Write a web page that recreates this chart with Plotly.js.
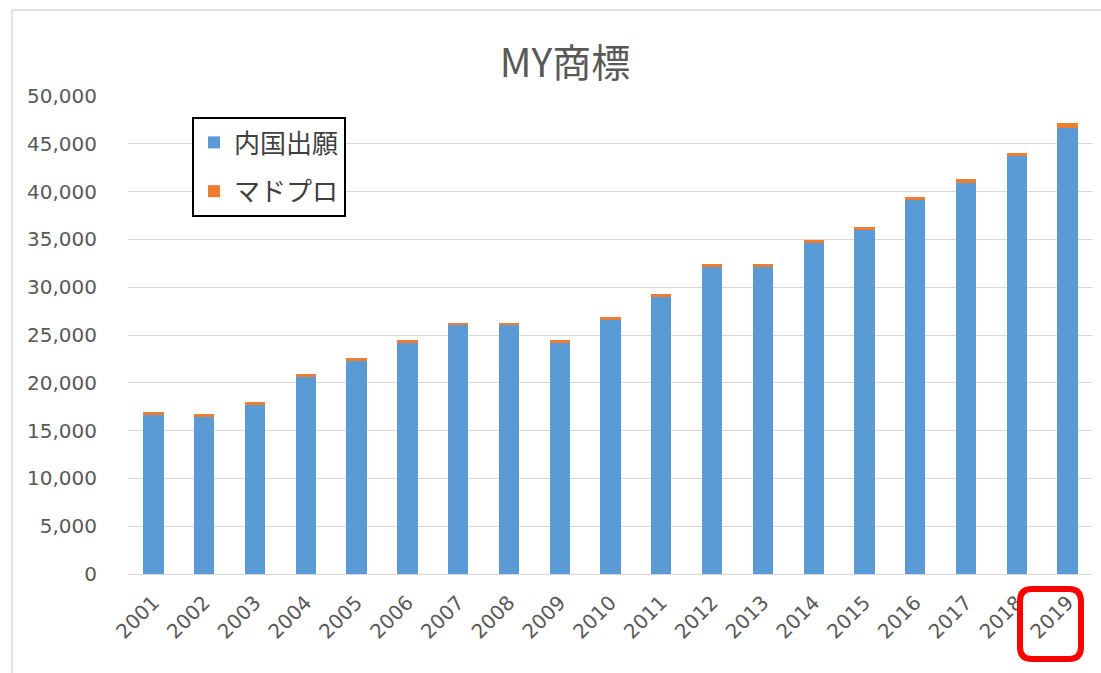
<!DOCTYPE html>
<html>
<head>
<meta charset="utf-8">
<script src="https://cdn.plot.ly/plotly-3.0.1.min.js"></script>
<style>html,body{margin:0;padding:0;background:#fff;}#chart{width:1101px;height:673px;}</style>
</head>
<body>
<div id="chart"></div>
<script>
const years = ["2001","2002","2003","2004","2005","2006","2007","2008","2009","2010","2011","2012","2013","2014","2015","2016","2017","2018","2019"];
const domestic = [16600,16400,17700,20650,22250,24150,26000,26000,24150,26550,28950,32150,32150,34600,35950,39100,40950,43700,46650];
const madrid = [300,300,300,300,300,300,300,300,300,300,300,300,300,300,300,300,350,300,550];
const seriesNames = ["内国出願","マドプロ"];
const chartTitle = "MY商標";

const W = 1101, H = 673;
const M = {l:128, r:8, t:96, b:99};
const pw = W - M.l - M.r, ph = H - M.t - M.b;
function px(x){ return (x - M.l)/pw; }
function py(y){ return (H - M.b - y)/ph; }
function roundRectPath(x0,y0,x1,y1,r){
  const P = (x,y)=> px(x).toFixed(5)+","+py(y).toFixed(5);
  return "M"+P(x0+r,y0)+" L"+P(x1-r,y0)+" Q"+P(x1,y0)+" "+P(x1,y0+r)+
         " L"+P(x1,y1-r)+" Q"+P(x1,y1)+" "+P(x1-r,y1)+
         " L"+P(x0+r,y1)+" Q"+P(x0,y1)+" "+P(x0,y1-r)+
         " L"+P(x0,y0+r)+" Q"+P(x0,y0)+" "+P(x0+r,y0)+" Z";
}

const tickFont = {family:"DejaVu Sans", size:20, color:"#595959"};
const cjk = "Noto Sans CJK JP";

const traces = [
  {type:"bar", x:years, y:domestic, name:seriesNames[0], legendgroup:"a",
   marker:{color:"#5B9BD5"}},
  {type:"bar", x:years, y:madrid, name:seriesNames[1], legendgroup:"b",
   marker:{color:"#ED7D31"}}
];

const layout = {
  width:W, height:H,
  margin:M,
  paper_bgcolor:"#fff", plot_bgcolor:"#fff",
  barmode:"stack", bargap:0.6,
  title:{text:chartTitle, font:{family:cjk, size:39, color:"#595959"},
         xref:"container", x:565/W, xanchor:"center", yref:"container", y:1-63/H, yanchor:"middle"},
  xaxis:{type:"category", tickangle:-45, tickfont:tickFont, showgrid:false,
         showline:true, linecolor:"#D9D9D9", linewidth:1, ticks:"",
         ticklabelstandoff:8, fixedrange:true},
  yaxis:{range:[0,50000], dtick:5000, tickformat:",d", tickfont:tickFont,
         gridcolor:"#D9D9D9", gridwidth:1, zeroline:false, ticks:"",
         ticklabelstandoff:30, fixedrange:true},
  showlegend:true,
  legend:{x:px(192), y:py(117), xanchor:"left", yanchor:"top",
          bgcolor:"#fff", bordercolor:"#000", borderwidth:2,
          font:{family:cjk, size:26, color:"#404040"},
          traceorder:"grouped", tracegroupgap:12},
  shapes:[
    {type:"rect", xref:"paper", yref:"paper", x0:px(12), y0:py(10), x1:px(1120), y1:py(690),
     line:{color:"#D9D9D9", width:1.5}, fillcolor:"rgba(0,0,0,0)", layer:"below"},
    {type:"path", xref:"paper", yref:"paper", path:roundRectPath(1020,589,1081,659,12),
     line:{color:"#FF0000", width:6}, fillcolor:"rgba(0,0,0,0)"}
  ]
};

Plotly.newPlot("chart", traces, layout, {staticPlot:true, displayModeBar:false});
</script>
</body>
</html>
